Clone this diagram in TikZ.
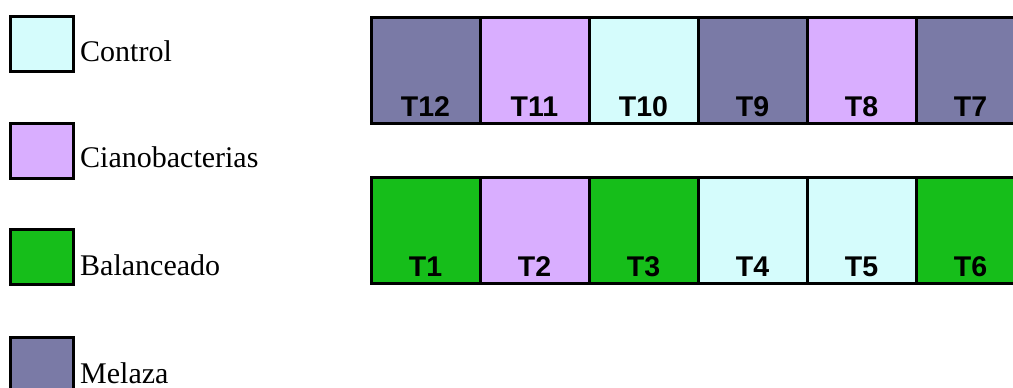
\documentclass[tikz,border=0pt]{standalone}
\usepackage{fontspec}
\usetikzlibrary{calc}
\setmainfont{Liberation Serif}
\newfontfamily\labfont{Liberation Sans}
\definecolor{cctrl}{RGB}{213,252,252}
\definecolor{ccian}{RGB}{217,174,255}
\definecolor{cbal}{RGB}{22,190,26}
\definecolor{cmel}{RGB}{122,122,166}
\tikzset{
  cell/.style={draw=black, line width=3pt, minimum width=109pt, minimum height=106pt, inner sep=0pt, outer sep=0pt},
  legbox/.style={draw=black, line width=3pt, minimum width=63pt, minimum height=55pt, inner sep=0pt},
  celllab/.style={font=\labfont\bfseries\fontsize{28.5}{30}\selectfont, anchor=base, inner sep=0pt},
  legtext/.style={font=\fontsize{30}{32}\selectfont, anchor=base west, inner sep=0pt}
}
\begin{document}
\begin{tikzpicture}[x=1pt,y=-1pt]
\useasboundingbox (0,0) rectangle (1013,388);
% top row
\foreach \n/\c [count=\i from 0] in {12/cmel,11/ccian,10/cctrl,9/cmel,8/ccian,7/cmel}{
  \node[cell, fill=\c] (c\n) at ({371+109*\i+54.5},70) {};
  \node[celllab] (l\n) at ($(c\n.south)+(0,-7)$) {T\n};
}
% bottom row
\foreach \n/\c [count=\i from 0] in {1/cbal,2/ccian,3/cbal,4/cctrl,5/cctrl,6/cbal}{
  \node[cell, fill=\c] (c\n) at ({371+109*\i+54.5},230) {};
  \node[celllab] (l\n) at ($(c\n.south)+(0,-7)$) {T\n};
}
% legend
\node[legbox, fill=cctrl] (bctrl) at (41.5,43.5) {};
\node[legtext] (tctrl) at (80,61) {Control};
\node[legbox, fill=ccian] (bcian) at (41.5,150.5) {};
\node[legtext] (tcian) at (80,167) {Cianobacterias};
\node[legbox, fill=cbal] (bbal) at (41.5,257) {};
\node[legtext] (tbal) at (80,275) {Balanceado};
\node[legbox, fill=cmel] (bmel) at (41.5,364.5) {};
\node[legtext] (tmel) at (80,383) {Melaza};
\end{tikzpicture}
\end{document}
